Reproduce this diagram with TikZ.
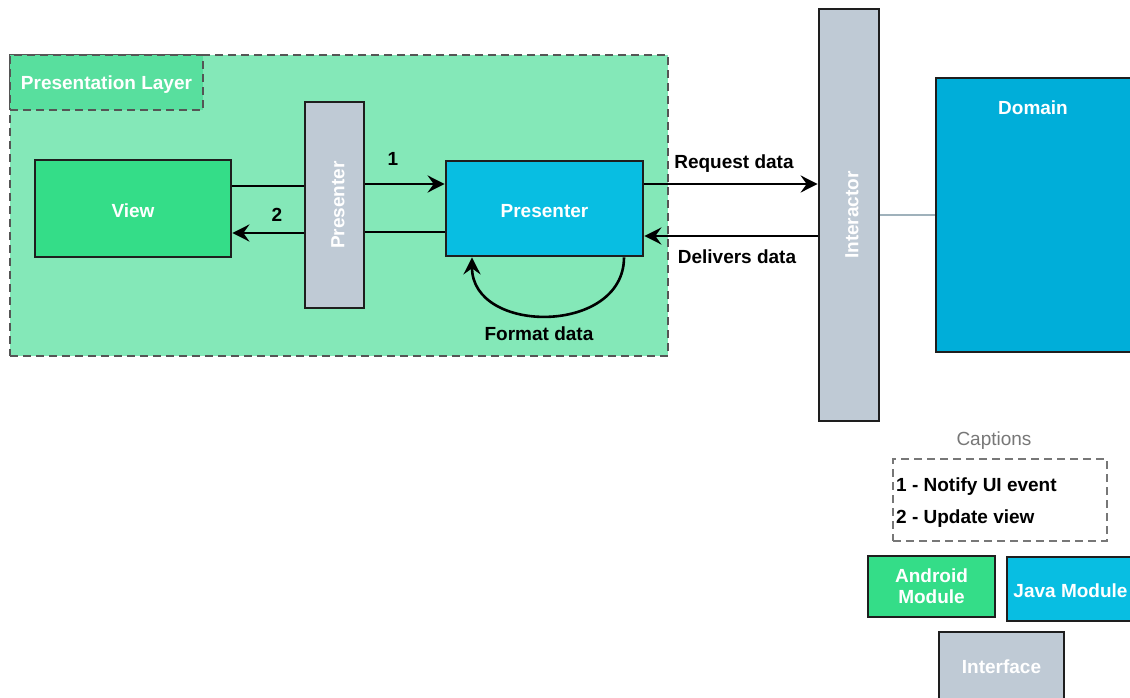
\documentclass[tikz,border=0pt]{standalone}
\usepackage{fontspec}
\usepackage{graphicx}
\setmainfont{Liberation Sans}
\usetikzlibrary{arrows.meta}

\definecolor{layerfill}{HTML}{84E8B8}
\definecolor{layertag}{HTML}{58DF9E}
\definecolor{androidgreen}{HTML}{34DD88}
\definecolor{javablue}{HTML}{08BEE2}
\definecolor{domainblue}{HTML}{00AED9}
\definecolor{ifacegray}{HTML}{BFCAD5}
\definecolor{edgecol}{HTML}{1E1E1E}
\definecolor{dashcol}{HTML}{555555}
\definecolor{linkcol}{HTML}{9FB1BB}
\definecolor{captgray}{HTML}{777777}

% lower the ink of a label without changing its box
\newcommand\lowtext[2]{\raisebox{-#1}[\height][\depth]{#2}}

\begin{document}
\begin{tikzpicture}[x=1pt,y=-1pt,
  txt/.style={font=\bfseries\fontsize{19}{22}\selectfont},
  box/.style={draw=edgecol, line width=2.7pt, inner sep=0pt, txt, text=white, align=center},
  lbl/.style={inner sep=0pt, txt, text=black},
  wire/.style={draw=black, line width=2.6pt},
  arr/.style={wire, -{Stealth[length=17pt,width=17pt,inset=6pt]}},
  dashbox/.style={dash pattern=on 8pt off 5pt, line width=2.6pt}
]
\useasboundingbox (0,0) rectangle (1130,698);
\clip (0,0) rectangle (1130,698);

% presentation layer container and its tag
\node[draw=dashcol, fill=layerfill, dashbox, minimum width=658pt, minimum height=301pt, inner sep=0pt] (layer) at (339,205.5) {};
\node[draw=dashcol, fill=layertag, dashbox, minimum width=193pt, minimum height=55pt, inner sep=0pt, txt, text=white] (layertag) at (106.5,82.5) {\lowtext{2pt}{Presentation Layer}};

% main blocks
\node[box, fill=androidgreen, minimum width=196pt, minimum height=97pt] (view) at (133,208.5) {\lowtext{2.5pt}{View}};
\node[box, fill=ifacegray, minimum width=59pt, minimum height=206pt] (presbar) at (334.5,205) {\rotatebox{90}{\lowtext{3.5pt}{Presenter}}};
\node[box, fill=javablue, minimum width=197pt, minimum height=95pt] (presenter) at (544.5,208.5) {\lowtext{3pt}{Presenter}};
\node[box, fill=ifacegray, minimum width=60pt, minimum height=412pt] (interactor) at (849,215) {\rotatebox{90}{\lowtext{3pt}{Interactor}}};
\node[box, fill=domainblue, minimum width=209pt, minimum height=274pt] (domain) at (1040.5,215) {};
\node[lbl, text=white] (domainlbl) at (1033,107.5) {Domain};

% row helpers
\coordinate (r1) at (0,186);
\coordinate (r2) at (0,184);
\coordinate (r3) at (0,233);
\coordinate (r4) at (0,232);
\coordinate (r5) at (0,236);
\coordinate (c1) at (624,0);
\coordinate (c2) at (472,0);

% view <-> presenter interface <-> presenter
\draw[wire] (view.east |- r1) -- (presbar.west |- r1);
\draw[arr] (presbar.east |- r2) -- (presenter.west |- r2);
\draw[arr] (presbar.west |- r3) -- (view.east |- r3);
\draw[wire] (presbar.east |- r4) -- (presenter.west |- r4);
\node[lbl] (n1) at (393,158.5) {1};
\node[lbl] (n2) at (277,215) {2};

% presenter self loop
\draw[arr] (presenter.south -| c1) .. controls (624,335) and (472,335) .. (presenter.south -| c2);
\node[lbl] (fmt) at (539,333.5) {Format data};

% presenter <-> interactor
\draw[arr] (presenter.east |- r2) -- (interactor.west |- r2);
\node[lbl] (req) at (734,164) {Request data};
\draw[arr] (interactor.west |- r5) -- (presenter.east |- r5);
\node[lbl] (del) at (737,256.5) {Delivers data};

% interactor to domain
\draw[draw=linkcol, line width=2.4pt] (interactor) -- (domain);

% captions
\node[inner sep=0pt, font=\fontsize{19}{22}\selectfont, text=captgray] (capttl) at (994,440.5) {Captions};
\node[draw=captgray, dashbox, line width=2.2pt, minimum width=214pt, minimum height=82pt, inner sep=0pt] (captbox) at (1000,500) {};
\node[lbl, anchor=west] (cap1) at (896,486.5) {1 - Notify UI event};
\node[lbl, anchor=west] (cap2) at (896,518.5) {2 - Update view};

% legend
\node[box, fill=androidgreen, minimum width=127pt, minimum height=61pt] (android) at (931.5,586.5) {Android\\[-1pt]Module};
\node[box, fill=javablue, minimum width=127pt, minimum height=64pt] (java) at (1070.5,589) {\lowtext{1.5pt}{Java Module}};
\node[box, fill=ifacegray, minimum width=125pt, minimum height=67pt] (iface) at (1001.5,665.5) {\lowtext{1pt}{Interface}};
\end{tikzpicture}
\end{document}
